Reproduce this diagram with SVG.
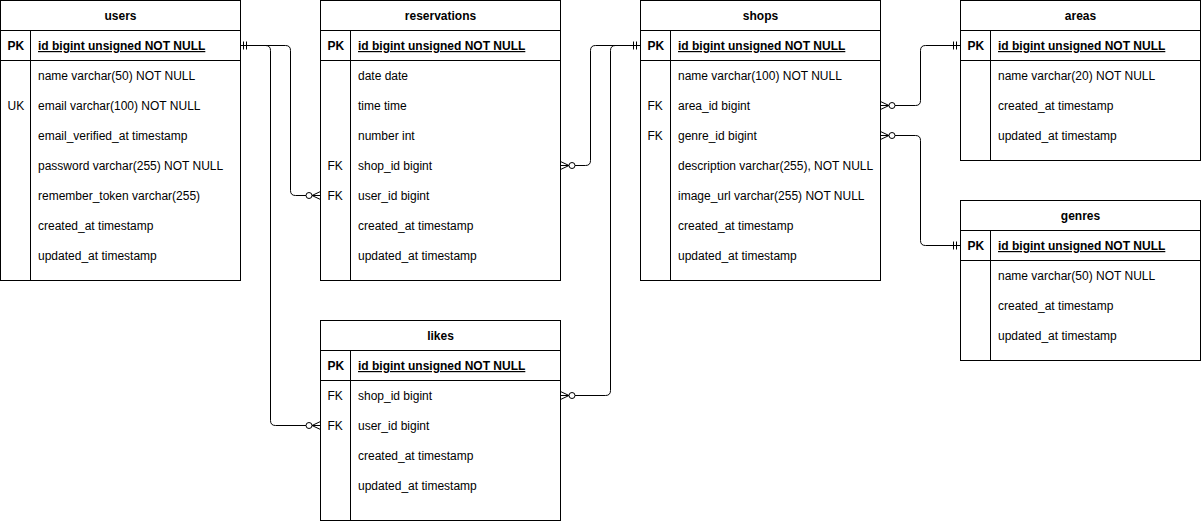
<svg xmlns="http://www.w3.org/2000/svg" width="1201" height="521" viewBox="0 0 1201 521">
<style>
.bg{fill:#ffffff}
.box{fill:#ffffff;stroke:#000000;stroke-width:1}
.ln{stroke:#000000;stroke-width:1;fill:none}
text{font-family:"Liberation Sans",Arial,Helvetica,sans-serif;font-size:12px;fill:#000000}
.t{font-weight:bold;text-anchor:middle}
.k{font-weight:bold}
.pk{font-weight:bold;text-decoration:underline}
.con{stroke:#000000;stroke-width:1;fill:none}
.cir{stroke:#000000;stroke-width:1;fill:#ffffff}
</style>
<rect class="bg" x="0" y="0" width="1201" height="521"/>

<g id="connectors">
  <!-- users.id -> reservations.user_id -->
  <path class="con" d="M240.5 45.5 H285.5 Q290.5 45.5 290.5 50.5 V190.5 Q290.5 195.5 295.5 195.5 H320.5"/>
  <!-- users.id -> likes.user_id -->
  <path class="con" d="M240.5 45.5 H265.5 Q270.5 45.5 270.5 50.5 V420.5 Q270.5 425.5 275.5 425.5 H320.5"/>
  <path class="con" d="M243.5 41.5 V49.5 M246.5 41.5 V49.5"/>
  <!-- crow's feet at reservations.user_id and likes.user_id -->
  <path class="con" d="M320.5 191.5 L312 195.5 L320.5 199.5"/>
  <circle class="cir" cx="309" cy="195.5" r="3"/>
  <path class="con" d="M320.5 421.5 L312 425.5 L320.5 429.5"/>
  <circle class="cir" cx="309" cy="425.5" r="3"/>

  <!-- reservations.shop_id -> shops.id -->
  <path class="con" d="M560.5 165.5 H585.5 Q590.5 165.5 590.5 160.5 V50.5 Q590.5 45.5 595.5 45.5 H640.5"/>
  <!-- likes.shop_id -> shops.id -->
  <path class="con" d="M560.5 395.5 H605.5 Q610.5 395.5 610.5 390.5 V50.5 Q610.5 45.5 615.5 45.5 H640.5"/>
  <path class="con" d="M633.5 41.5 V49.5 M636.5 41.5 V49.5"/>
  <path class="con" d="M560.5 161.5 L569 165.5 L560.5 169.5"/>
  <circle class="cir" cx="572" cy="165.5" r="3"/>
  <path class="con" d="M560.5 391.5 L569 395.5 L560.5 399.5"/>
  <circle class="cir" cx="572" cy="395.5" r="3"/>

  <!-- shops.area_id -> areas.id -->
  <path class="con" d="M880.5 105.5 H915.5 Q920.5 105.5 920.5 100.5 V50.5 Q920.5 45.5 925.5 45.5 H960.5"/>
  <path class="con" d="M953.5 41.5 V49.5 M956.5 41.5 V49.5"/>
  <path class="con" d="M880.5 101.5 L889 105.5 L880.5 109.5"/>
  <circle class="cir" cx="892" cy="105.5" r="3"/>
  <!-- shops.genre_id -> genres.id -->
  <path class="con" d="M880.5 135.5 H915.5 Q920.5 135.5 920.5 140.5 V240.5 Q920.5 245.5 925.5 245.5 H960.5"/>
  <path class="con" d="M953.5 241.5 V249.5 M956.5 241.5 V249.5"/>
  <path class="con" d="M880.5 131.5 L889 135.5 L880.5 139.5"/>
  <circle class="cir" cx="892" cy="135.5" r="3"/>
</g>

<g id="users" transform="translate(0.5,0.5)">
  <rect class="box" x="0" y="0" width="240" height="280"/>
  <path class="ln" d="M0 30 H240 M0 60 H240 M30 30 V280"/>
  <text class="t" x="120" y="19.5">users</text>
  <text class="k" x="7" y="49.5">PK</text>
  <text class="pk" x="37.5" y="49.5">id bigint unsigned NOT NULL</text>
  <text x="37.5" y="79.5">name varchar(50) NOT NULL</text>
  <text x="7" y="109.5">UK</text>
  <text x="37.5" y="109.5">email varchar(100) NOT NULL</text>
  <text x="37.5" y="139.5">email_verified_at timestamp</text>
  <text x="37.5" y="169.5">password varchar(255) NOT NULL</text>
  <text x="37.5" y="199.5">remember_token varchar(255)</text>
  <text x="37.5" y="229.5">created_at timestamp</text>
  <text x="37.5" y="259.5">updated_at timestamp</text>
</g>

<g id="reservations" transform="translate(320.5,0.5)">
  <rect class="box" x="0" y="0" width="240" height="280"/>
  <path class="ln" d="M0 30 H240 M0 60 H240 M30 30 V280"/>
  <text class="t" x="120" y="19.5">reservations</text>
  <text class="k" x="7" y="49.5">PK</text>
  <text class="pk" x="37.5" y="49.5">id bigint unsigned NOT NULL</text>
  <text x="37.5" y="79.5">date date</text>
  <text x="37.5" y="109.5">time time</text>
  <text x="37.5" y="139.5">number int</text>
  <text x="7" y="169.5">FK</text>
  <text x="37.5" y="169.5">shop_id bigint</text>
  <text x="7" y="199.5">FK</text>
  <text x="37.5" y="199.5">user_id bigint</text>
  <text x="37.5" y="229.5">created_at timestamp</text>
  <text x="37.5" y="259.5">updated_at timestamp</text>
</g>

<g id="shops" transform="translate(640.5,0.5)">
  <rect class="box" x="0" y="0" width="240" height="280"/>
  <path class="ln" d="M0 30 H240 M0 60 H240 M30 30 V280"/>
  <text class="t" x="120" y="19.5">shops</text>
  <text class="k" x="7" y="49.5">PK</text>
  <text class="pk" x="37.5" y="49.5">id bigint unsigned NOT NULL</text>
  <text x="37.5" y="79.5">name varchar(100) NOT NULL</text>
  <text x="7" y="109.5">FK</text>
  <text x="37.5" y="109.5">area_id bigint</text>
  <text x="7" y="139.5">FK</text>
  <text x="37.5" y="139.5">genre_id bigint</text>
  <text x="37.5" y="169.5">description varchar(255), NOT NULL</text>
  <text x="37.5" y="199.5">image_url varchar(255) NOT NULL</text>
  <text x="37.5" y="229.5">created_at timestamp</text>
  <text x="37.5" y="259.5">updated_at timestamp</text>
</g>

<g id="areas" transform="translate(960.5,0.5)">
  <rect class="box" x="0" y="0" width="240" height="160"/>
  <path class="ln" d="M0 30 H240 M0 60 H240 M30 30 V160"/>
  <text class="t" x="120" y="19.5">areas</text>
  <text class="k" x="7" y="49.5">PK</text>
  <text class="pk" x="37.5" y="49.5">id bigint unsigned NOT NULL</text>
  <text x="37.5" y="79.5">name varchar(20) NOT NULL</text>
  <text x="37.5" y="109.5">created_at timestamp</text>
  <text x="37.5" y="139.5">updated_at timestamp</text>
</g>

<g id="genres" transform="translate(960.5,200.5)">
  <rect class="box" x="0" y="0" width="240" height="160"/>
  <path class="ln" d="M0 30 H240 M0 60 H240 M30 30 V160"/>
  <text class="t" x="120" y="19.5">genres</text>
  <text class="k" x="7" y="49.5">PK</text>
  <text class="pk" x="37.5" y="49.5">id bigint unsigned NOT NULL</text>
  <text x="37.5" y="79.5">name varchar(50) NOT NULL</text>
  <text x="37.5" y="109.5">created_at timestamp</text>
  <text x="37.5" y="139.5">updated_at timestamp</text>
</g>

<g id="likes" transform="translate(320.5,320.5)">
  <rect class="box" x="0" y="0" width="240" height="200"/>
  <path class="ln" d="M0 30 H240 M0 60 H240 M30 30 V200"/>
  <text class="t" x="120" y="19.5">likes</text>
  <text class="k" x="7" y="49.5">PK</text>
  <text class="pk" x="37.5" y="49.5">id bigint unsigned NOT NULL</text>
  <text x="7" y="79.5">FK</text>
  <text x="37.5" y="79.5">shop_id bigint</text>
  <text x="7" y="109.5">FK</text>
  <text x="37.5" y="109.5">user_id bigint</text>
  <text x="37.5" y="139.5">created_at timestamp</text>
  <text x="37.5" y="169.5">updated_at timestamp</text>
</g>
</svg>
